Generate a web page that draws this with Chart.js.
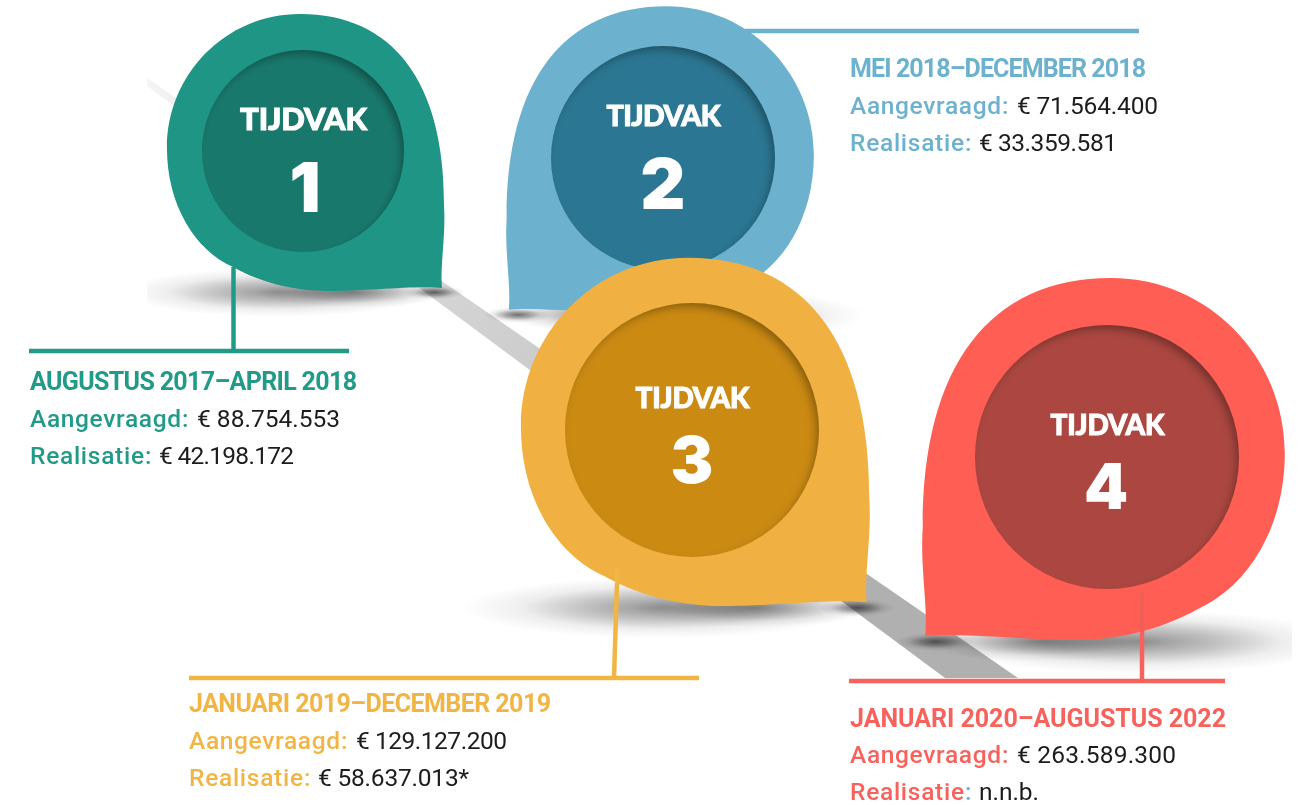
<!DOCTYPE html>
<html>
<head>
<meta charset="utf-8">
<style>
  html, body { margin: 0; padding: 0; background: #fff; }
  #wrap { width: 1303px; height: 805px; }
</style>
<script src="https://cdn.jsdelivr.net/npm/chart.js@4"></script>
</head>
<body>
<div id="wrap"><canvas id="chart" width="1303" height="805"></canvas></div>
<script>
// data
const tijdvakken = ["1", "2", "3", "4"];
const perioden = ["AUGUSTUS 2017–APRIL 2018", "MEI 2018–DECEMBER 2018", "JANUARI 2019–DECEMBER 2019", "JANUARI 2020–AUGUSTUS 2022"];
const aangevraagd = [88754553, 71564400, 129127200, 263589300];
const realisatie = [42198172, 33359581, 58637013, null];
const voetnoot = ["", "", "*", ""];

// layout, in picture pixels
const pinX = [303, 663, 692, 1107];
const pinY = [151, 158, 430, 457];
const pinR = [101, 112, 127, 132];
const pinFlip = [1, -1, 1, -1];
const bodyColors = ["#1f9585", "#6cb2ce", "#f0b142", "#ff5e54"];
const innerColors = ["#19786c", "#2b7692", "#cb8a12", "#ab4740"];
const textColors = ["#229a88", "#6cb2ce", "#f2b544", "#f7625d"];
const colonColors = ["#229a88", "#6cb2ce", "#f2b544", "#6cb2ce"];
const headSize = [31, 28.5, 28, 28];
const headWidth = [127, 114, 114, 114];
const headBase = [130, 126, 408, 435];
const digitSize = [69, 70, 64, 63];
const digitBase = [212, 209, 483, 509];
const digitShift = [2, 0, 0, -1];
const textX = [30, 850, 189, 850];
const textBase = [[390, 427, 464], [77, 114, 151], [712, 749, 786], [727, 763, 800]];
const titleWidth = [327, 296, 362, 376];
const aangevraagdEnd = [340, 1158, 507, 1176];
const realisatieEnd = [294, 1117, 469, 1039];
// [x1, y1, x2, y2] of the leader lines
const rules = [
  [[233.5, 267, 233.5, 350], [29, 351, 349, 351]],
  [[745, 31, 1139, 31]],
  [[617, 583, 614, 678], [189, 678, 699, 678]],
  [[1142, 630, 1142, 681], [849, 681, 1225, 681]]
];
const faintRules = [null, null, [617, 567, 617, 584], [1142, 593, 1142, 632]];

// pin outline for r = 1, tip bottom right
const pinStart = [1.376, 1.356];
const pinCurves = [
  [1.356, 1.129, 1.416, 0.832, 1.396, 0.535],
  [1.40, -0.70, 0.88, -1.356, -0.03, -1.356],
  [-0.772, -1.356, -1.347, -0.752, -1.347, -0.03],
  [-1.347, 0.535, -1.069, 0.98, -0.693, 1.149],
  [-0.376, 1.327, -0.03, 1.386, 0.238, 1.386],
  [0.614, 1.386, 1.158, 1.327, 1.376, 1.356]
];

const euro = v => "€ " + String(v).replace(/\B(?=(\d{3})+$)/g, ".");

function softEllipse(ctx, cx, cy, rx, ry, alpha) {
  ctx.save();
  ctx.translate(cx, cy);
  ctx.scale(rx, ry);
  const g = ctx.createRadialGradient(0, 0, 0, 0, 0, 1);
  g.addColorStop(0, "rgba(0,0,0," + alpha + ")");
  g.addColorStop(0.4, "rgba(0,0,0," + alpha * 0.55 + ")");
  g.addColorStop(0.7, "rgba(0,0,0," + alpha * 0.16 + ")");
  g.addColorStop(1, "rgba(0,0,0,0)");
  ctx.fillStyle = g;
  ctx.beginPath();
  ctx.arc(0, 0, 1, 0, Math.PI * 2);
  ctx.fill();
  ctx.restore();
}

// spreads the letters so the text takes the width it has in the picture
function fitText(ctx, text, x, y, width, outline) {
  ctx.letterSpacing = "0px";
  const w = ctx.measureText(text).width;
  ctx.letterSpacing = (width - w) / Math.max(text.length - 1, 1) + "px";
  ctx.fillText(text, x, y);
  if (outline) ctx.strokeText(text, x, y);
  ctx.letterSpacing = "0px";
}

function drawRoad(chart) {
  const ctx = chart.ctx, sx = chart.scales.x, sy = chart.scales.y;
  const px = v => sx.getPixelForValue(v), py = v => sy.getPixelForValue(v);
  const g = ctx.createLinearGradient(px(147), py(80), px(1000), py(680));
  g.addColorStop(0, "#f4f4f4");
  g.addColorStop(0.37, "#d3d3d3");
  g.addColorStop(0.85, "#b0b0b0");
  ctx.fillStyle = g;
  ctx.beginPath();
  ctx.moveTo(px(147), py(78));
  ctx.lineTo(px(1018), py(678));
  ctx.lineTo(px(945), py(678));
  ctx.lineTo(px(147), py(86));
  ctx.closePath();
  ctx.fill();
}

function drawRule(ctx, chart, r, color, width) {
  const sx = chart.scales.x, sy = chart.scales.y;
  ctx.strokeStyle = color;
  ctx.lineWidth = width;
  ctx.beginPath();
  ctx.moveTo(sx.getPixelForValue(r[0]), sy.getPixelForValue(r[1]));
  ctx.lineTo(sx.getPixelForValue(r[2]), sy.getPixelForValue(r[3]));
  ctx.stroke();
}

function drawPin(chart, i) {
  const ctx = chart.ctx;
  const cx = chart.scales.x.getPixelForValue(pinX[i]);
  const cy = chart.scales.y.getPixelForValue(pinY[i]);
  const r = pinR[i], f = pinFlip[i];

  // ground shadow, cut off at the edges of the original photo layer
  ctx.save();
  ctx.beginPath();
  ctx.rect(147, 0, 1145, 805);
  ctx.clip();
  softEllipse(ctx, cx - f * 0.25 * r, cy + 1.4 * r, 1.55 * r, 0.24 * r, 0.42);
  softEllipse(ctx, cx + f * 0.5 * r, cy + 1.4 * r, 0.95 * r, 0.15 * r, 0.4);
  softEllipse(ctx, cx + f * 1.3 * r, cy + 1.4 * r, 0.3 * r, 0.07 * r, 0.55);
  ctx.restore();

  rules[i].forEach(l => drawRule(ctx, chart, l, textColors[i], 4.5));

  ctx.fillStyle = bodyColors[i];
  ctx.beginPath();
  ctx.moveTo(cx + f * pinStart[0] * r, cy + pinStart[1] * r);
  pinCurves.forEach(c => ctx.bezierCurveTo(
    cx + f * c[0] * r, cy + c[1] * r,
    cx + f * c[2] * r, cy + c[3] * r,
    cx + f * c[4] * r, cy + c[5] * r));
  ctx.closePath();
  ctx.fill();

  if (faintRules[i]) drawRule(ctx, chart, faintRules[i], i == 2 ? "#f2b845" : "#ef5f58", 3.5);
}

function drawInnerShadow(chart, i) {
  const ctx = chart.ctx;
  const cx = chart.scales.x.getPixelForValue(pinX[i]);
  const cy = chart.scales.y.getPixelForValue(pinY[i]);
  const r = pinR[i];
  ctx.save();
  ctx.beginPath();
  ctx.arc(cx, cy, r, 0, Math.PI * 2);
  ctx.clip();
  ctx.shadowColor = "rgba(0,0,0,0.35)";
  ctx.shadowBlur = 10;
  ctx.shadowOffsetX = -4;
  ctx.shadowOffsetY = 5;
  ctx.fillStyle = "#000";
  ctx.beginPath();
  ctx.rect(cx - r - 60, cy - r - 60, 2 * r + 120, 2 * r + 120);
  ctx.arc(cx, cy, r + 2, 0, Math.PI * 2, true);
  ctx.fill("evenodd");
  ctx.restore();
}

function drawPinText(chart, i) {
  const ctx = chart.ctx;
  const cx = chart.scales.x.getPixelForValue(pinX[i]);
  ctx.save();
  ctx.fillStyle = "#fff";
  ctx.strokeStyle = "#fff";
  ctx.lineWidth = 1;
  ctx.textBaseline = "alphabetic";
  ctx.textAlign = "left";
  ctx.font = "900 " + headSize[i] + "px Lato";
  fitText(ctx, "TIJDVAK", cx - headWidth[i] / 2 + 0.5, headBase[i], headWidth[i], true);
  ctx.textAlign = "center";
  ctx.font = "900 " + digitSize[i] + "px Inter";
  ctx.fillText(tijdvakken[i], cx + digitShift[i], digitBase[i]);
  ctx.restore();
}

function drawBlock(chart, i) {
  const ctx = chart.ctx;
  const x = textX[i], base = textBase[i];
  ctx.save();
  ctx.textAlign = "left";
  ctx.textBaseline = "alphabetic";
  ctx.fillStyle = textColors[i];
  ctx.font = "700 25px Roboto";
  fitText(ctx, perioden[i], x, base[0], titleWidth[i]);

  const rows = [
    { label: "Aangevraagd", width: 151, value: euro(aangevraagd[i]), valueX: x + 167, end: aangevraagdEnd[i], colon: textColors[i] },
    { label: "Realisatie", width: 114, value: realisatie[i] === null ? "n.n.b." : euro(realisatie[i]) + voetnoot[i], valueX: x + 129, end: realisatieEnd[i], colon: colonColors[i] }
  ];
  rows.forEach((row, k) => {
    ctx.font = "500 24.5px Roboto";
    ctx.fillStyle = textColors[i];
    fitText(ctx, row.label, x, base[k + 1], row.width);
    ctx.fillStyle = row.colon;
    ctx.fillText(":", x + row.width + 1, base[k + 1]);
    ctx.font = "400 24.5px Roboto";
    ctx.fillStyle = "#1c1c1c";
    fitText(ctx, row.value, row.valueX, base[k + 1], row.end - row.valueX);
  });
  ctx.restore();
}

const pinPlugin = {
  id: "pins",
  beforeDatasetsDraw(chart) { drawRoad(chart); },
  beforeDatasetDraw(chart, args) { drawPin(chart, args.index); },
  afterDatasetDraw(chart, args) {
    drawInnerShadow(chart, args.index);
    drawPinText(chart, args.index);
  },
  afterDatasetsDraw(chart) {
    tijdvakken.forEach((t, i) => drawBlock(chart, i));
  }
};

new Chart(document.getElementById("chart"), {
  type: "scatter",
  plugins: [pinPlugin],
  data: {
    datasets: tijdvakken.map((t, i) => ({
      label: "Tijdvak " + t,
      data: [{ x: pinX[i], y: pinY[i] }],
      order: tijdvakken.length - i,
      clip: false,
      pointRadius: pinR[i],
      pointHoverRadius: pinR[i],
      pointBorderWidth: 0,
      backgroundColor: innerColors[i]
    }))
  },
  options: {
    responsive: false,
    animation: false,
    events: [],
    layout: { padding: 0, autoPadding: false },
    plugins: { legend: { display: false }, tooltip: { enabled: false } },
    scales: {
      x: { type: "linear", display: false, min: 0, max: 1303 },
      y: { type: "linear", display: false, min: 0, max: 805, reverse: true }
    }
  }
});
</script>
</body>
</html>
